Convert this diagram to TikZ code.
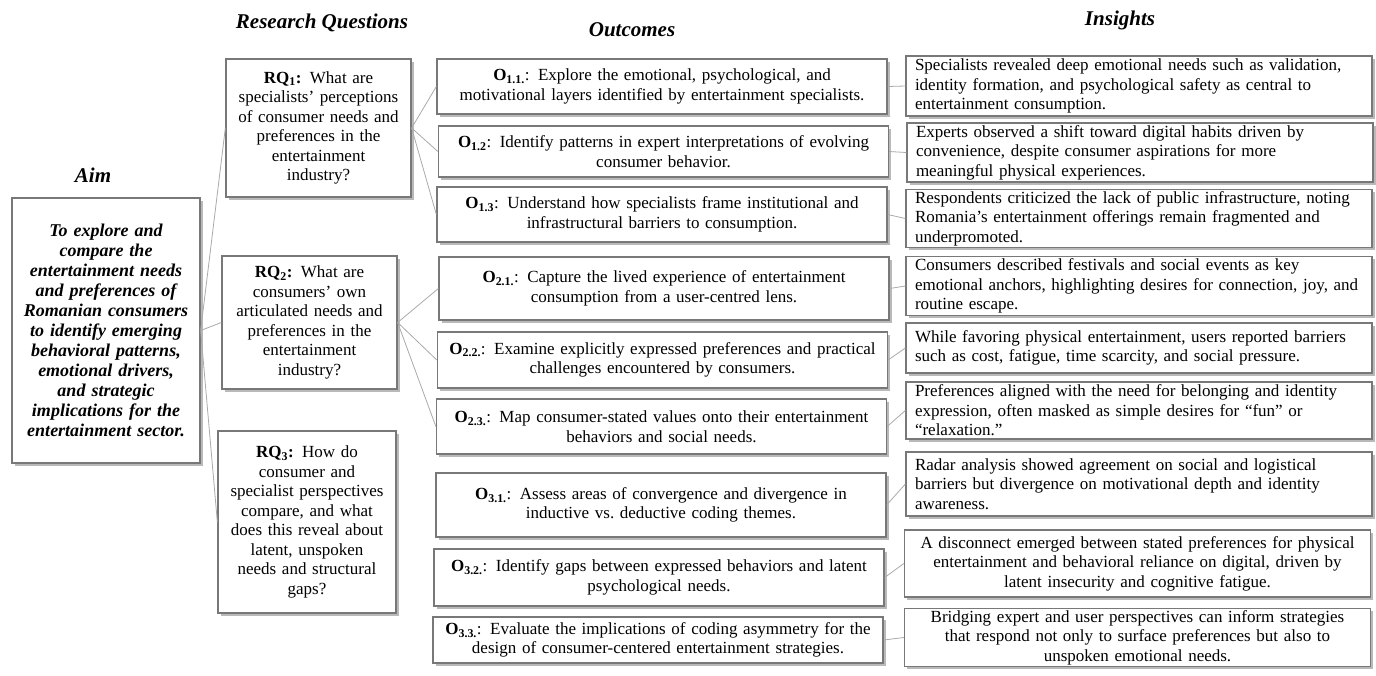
\documentclass[tikz,border=0pt]{standalone}
\usepackage{fontspec}
\setmainfont{Liberation Serif}
\usetikzlibrary{shadows}
\definecolor{boxgray}{RGB}{120,120,120}
\definecolor{linkgray}{RGB}{170,170,170}
\newcommand{\objno}[1]{\textbf{O\textsubscript{#1}}}
\newcommand{\rqno}[1]{\textbf{RQ\textsubscript{#1}:}}
\tikzset{
    plain-box/.style = {draw=boxgray, line width=1.3pt, fill=white, rectangle, inner xsep=6pt, inner ysep=2pt,
        drop shadow={shadow xshift=2.5pt, shadow yshift=-2.5pt, fill=black!50, opacity=0.55},
        font=\fontsize{17}{19.5}\selectfont},
    aim-box/.style = {plain-box, text width=176pt, align=center, font=\fontsize{18}{20}\selectfont\bfseries\itshape},
    rq-box/.style = {plain-box, align=center},
    out-box/.style = {plain-box, text width=438pt, align=center},
    ins-box/.style = {plain-box, text width=454pt, align=left},
    head-title/.style = {font=\fontsize{21}{24}\selectfont\bfseries\itshape},
    link/.style = {draw=linkgray, line width=0.8pt},
}

\begin{document}
\begin{tikzpicture}[x=1pt, y=-1pt]
\useasboundingbox[fill=white] (0,0) rectangle (1376,675);

\node[head-title] (aimtitle) at (93,175) {Aim};
\node[head-title] (rqtitle) at (322,23) {Research Questions};
\node[head-title] (outtitle) at (632,30) {Outcomes};
\node[head-title] (institle) at (1120,20) {Insights};

\node[aim-box, minimum width=188pt, minimum height=265pt] (aim) at (106,330.5) {To explore and\\ compare the\\ entertainment needs\\ and preferences of\\ Romanian consumers\\ to identify emerging\\ behavioral patterns,\\ emotional drivers,\\ and strategic\\ implications for the\\ entertainment sector.};

\node[rq-box, text width=173pt, minimum width=185pt, minimum height=138pt] (rq1) at (318.5,128) {\rqno{1}\enspace What are\\ specialists' perceptions\\ of consumer needs and\\ preferences in the\\ entertainment\\ industry?};
\node[rq-box, text width=163pt, minimum width=175pt, minimum height=133pt] (rq2) at (309.5,322.5) {\rqno{2} What are\\ consumers’ own\\ articulated needs and\\ preferences in the\\ entertainment\\ industry?};
\node[rq-box, text width=166pt, minimum width=178pt, minimum height=182pt] (rq3) at (307,522) {\rqno{3} How do\\ consumer and\\ specialist perspectives\\ compare, and what\\ does this reveal about\\ latent, unspoken\\ needs and structural\\ gaps?};

\node[out-box, minimum height=55pt] (o11) at (662,86.5) {\objno{1.1.}:\enspace Explore the emotional, psychological, and\\ motivational layers identified by entertainment specialists.};
\node[out-box, minimum height=51pt] (o12) at (663.5,151.5) {\objno{1.2}:\enspace Identify patterns in expert interpretations of evolving\\ consumer behavior.};
\node[out-box, minimum height=55pt] (o13) at (662,214.5) {\objno{1.3}:\enspace Understand how specialists frame institutional and\\ infrastructural barriers to consumption.};
\node[out-box, minimum height=63pt] (o21) at (664,288.5) {\objno{2.1.}: Capture the lived experience of entertainment\\ consumption from a user-centred lens.};
\node[out-box, minimum height=56pt] (o22) at (662.5,360) {\objno{2.2.}: Examine explicitly expressed preferences and practical\\ challenges encountered by consumers.};
\node[out-box, minimum height=55pt] (o23) at (661.5,426.5) {\objno{2.3.}: Map consumer-stated values onto their entertainment\\ behaviors and social needs.};
\node[out-box, minimum height=64pt] (o31) at (661,505) {\objno{3.1.}: Assess areas of convergence and divergence in\\ inductive vs.\ deductive coding themes.};
\node[out-box, minimum height=57pt] (o32) at (659,577.5) {\objno{3.2.}: Identify gaps between expressed behaviors and latent\\ psychological needs.};
\node[out-box, minimum height=46pt] (o33) at (658,640) {\objno{3.3.}: Evaluate the implications of coding asymmetry for the\\ design of consumer-centered entertainment strategies.};

\node[ins-box, minimum height=60pt] (i11) at (1139,86) {\hspace*{3pt}Specialists revealed deep emotional needs such as validation,\\ \hspace*{3pt}identity formation, and psychological safety as central to\\ \hspace*{3pt}entertainment consumption.};
\node[ins-box, minimum height=59pt] (i12) at (1140,152.5) {\hspace*{3pt}Experts observed a shift toward digital habits driven by\\ \hspace*{3pt}convenience, despite consumer aspirations for more\\ \hspace*{3pt}meaningful physical experiences.};
\node[ins-box, minimum height=57pt] (i13) at (1139,218.5) {\hspace*{3pt}Respondents criticized the lack of public infrastructure, noting\\ \hspace*{3pt}Romania’s entertainment offerings remain fragmented and\\ \hspace*{3pt}underpromoted.};
\node[ins-box, minimum height=58pt] (i21) at (1139,286) {\hspace*{3pt}Consumers described festivals and social events as key\\ \hspace*{3pt}emotional anchors, highlighting desires for connection, joy, and\\ \hspace*{3pt}routine escape.};
\node[ins-box, minimum height=50pt] (i22) at (1139,348) {\hspace*{3pt}While favoring physical entertainment, users reported barriers\\ \hspace*{3pt}such as cost, fatigue, time scarcity, and social pressure.};
\node[ins-box, minimum height=57pt] (i23) at (1139,410.5) {\hspace*{3pt}Preferences aligned with the need for belonging and identity\\ \hspace*{3pt}expression, often masked as simple desires for “fun” or\\ \hspace*{3pt}“relaxation.”};
\node[ins-box, minimum height=64pt] (i31) at (1139,484) {\hspace*{3pt}Radar analysis showed agreement on social and logistical\\ \hspace*{3pt}barriers but divergence on motivational depth and identity\\ \hspace*{3pt}awareness.};
\node[ins-box, align=center, minimum height=67pt] (i32) at (1137.5,563.5) {A disconnect emerged between stated preferences for physical\\ entertainment and behavioral reliance on digital, driven by\\ latent insecurity and cognitive fatigue.};
\node[ins-box, align=center, minimum height=51pt] (i33) at (1137.5,637.5) {Bridging expert and user perspectives can inform strategies\\ that respond not only to surface preferences but also to\\ unspoken emotional needs.};

\draw[link] (aim.east) -- (rq1.west);
\draw[link] (aim.east) -- (rq2.west);
\draw[link] (aim.east) -- (rq3.west);

\draw[link] (rq1.east) -- (o11.west);
\draw[link] (rq1.east) -- (o12.west);
\draw[link] (rq1.east) -- (o13.west);
\draw[link] (rq2.east) -- (o21.west);
\draw[link] (rq2.east) -- (o22.west);
\draw[link] (rq2.east) -- (o23.west);

\draw[link] (o11.east) -- (i11.west);
\draw[link] (o12.east) -- (i12.west);
\draw[link] (o13.east) -- (i13.west);
\draw[link] (o21.east) -- (i21.west);
\draw[link] (o22.east) -- (i22.west);
\draw[link] (o23.east) -- (i23.west);
\draw[link] (o31.east) -- (i31.west);
\draw[link] (o32.east) -- (i32.west);
\draw[link] (o33.east) -- (i33.west);
\end{tikzpicture}
\end{document}
